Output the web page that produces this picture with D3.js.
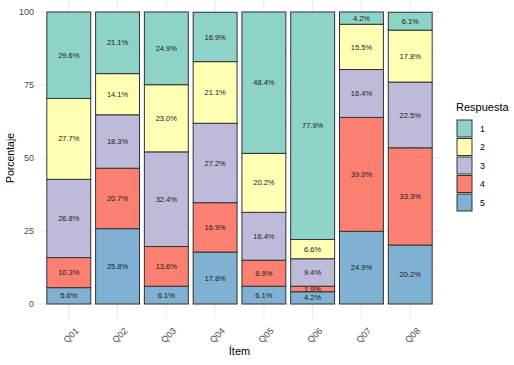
<!DOCTYPE html>
<html><head><meta charset="utf-8">
<script src="https://cdn.jsdelivr.net/npm/d3@7"></script>
<style>body{margin:0;background:#fff}svg{display:block;font-family:"Liberation Sans",Arial,sans-serif}</style>
</head><body>
<svg id="c" width="514" height="365"></svg>
<script>
const items = ["Q01","Q02","Q03","Q04","Q05","Q06","Q07","Q08"];
const responses = ["1","2","3","4","5"];
const r1 = [29.6, 21.1, 24.9, 16.9, 48.4, 77.9, 4.2, 6.1];
const r2 = [27.7, 14.1, 23.0, 21.1, 20.2, 6.6, 15.5, 17.8];
const r3 = [26.8, 18.3, 32.4, 27.2, 16.4, 9.4, 16.4, 22.5];
const r4 = [10.3, 20.7, 13.6, 16.9, 8.9, 1.9, 39.0, 33.3];
const r5 = [5.6, 25.8, 6.1, 17.8, 6.1, 4.2, 24.9, 20.2];
const yTicks = [0, 25, 50, 75, 100];
const colors = ["#8DD3C7","#FFFFB3","#BEBADA","#FB8072","#80B1D3"];

const seriesVals = {"1": r1, "2": r2, "3": r3, "4": r4, "5": r5};
const rows = items.map((it, i) => {
  const o = {item: it};
  responses.forEach(r => o[r] = seriesVals[r][i]);
  return o;
});

const svg = d3.select("#c");
const pLeft = 39.5, pRight = 439.5, pTop = -2.6, pBottom = 318.6;
const x = d3.scaleBand().domain(items).range([pLeft, pRight]).paddingInner(0.1).paddingOuter(0.15).align(0.5);
const y = d3.scaleLinear().domain([-5, 105]).range([pBottom, pTop]);
const color = d3.scaleOrdinal().domain(responses).range(colors);

// grid
const g = svg.append("g");
const minor = [12.5, 37.5, 62.5, 87.5];
g.selectAll(".mn").data(minor).join("line")
  .attr("x1", pLeft).attr("x2", pRight).attr("y1", d => y(d)).attr("y2", d => y(d))
  .attr("stroke", "#F2F2F2").attr("stroke-width", 0.6);
g.selectAll(".mj").data(yTicks).join("line")
  .attr("x1", pLeft).attr("x2", pRight).attr("y1", d => y(d)).attr("y2", d => y(d))
  .attr("stroke", "#EBEBEB").attr("stroke-width", 1.1);
g.selectAll(".vx").data(items).join("line")
  .attr("x1", d => x(d) + x.bandwidth()/2).attr("x2", d => x(d) + x.bandwidth()/2)
  .attr("y1", pTop).attr("y2", pBottom)
  .attr("stroke", "#EBEBEB").attr("stroke-width", 1.1);

// stack: 5 at bottom, 1 at top
const stack = d3.stack().keys(["5","4","3","2","1"]);
const series = stack(rows);

const bars = svg.append("g");
series.forEach(s => {
  bars.selectAll(null).data(s).join("rect")
    .attr("x", d => x(d.data.item))
    .attr("width", x.bandwidth())
    .attr("y", d => y(d[1]))
    .attr("height", d => y(d[0]) - y(d[1]))
    .attr("fill", color(s.key))
    .attr("stroke", "#333333").attr("stroke-width", 1);
});
series.forEach(s => {
  bars.selectAll(null).data(s).join("text")
    .attr("x", d => x(d.data.item) + x.bandwidth()/2)
    .attr("y", d => y((d[0] + d[1]) / 2))
    .attr("dy", "0.35em")
    .attr("text-anchor", "middle")
    .attr("font-size", 7.5)
    .attr("fill", "#1a1a1a")
    .text(d => (d[1] - d[0]).toFixed(1) + "%");
});

// y axis labels
svg.append("g").selectAll("text").data(yTicks).join("text")
  .attr("x", 34).attr("y", d => y(d)).attr("dy", "0.35em")
  .attr("text-anchor", "end").attr("font-size", 9).attr("fill", "#4D4D4D")
  .text(d => d);

// x axis labels
svg.append("g").selectAll("text").data(items).join("text")
  .attr("transform", d => `translate(${x(d) + x.bandwidth()/2 + 6},${327}) rotate(-45)`)
  .attr("text-anchor", "end").attr("dy", "0.7em").attr("font-size", 9).attr("fill", "#4D4D4D")
  .text(d => d);

// axis titles
svg.append("text").attr("x", (pLeft + pRight)/2).attr("y", 355)
  .attr("text-anchor", "middle").attr("font-size", 11).attr("fill", "#000").text("Ítem");
svg.append("text").attr("transform", `translate(14,${(y(0)+y(100))/2}) rotate(-90)`)
  .attr("text-anchor", "middle").attr("font-size", 10.5).attr("fill", "#000").text("Porcentaje");

// legend
const lg = svg.append("g").attr("transform", "translate(456,0)");
lg.append("text").attr("x", 0).attr("y", 111).attr("font-size", 11).attr("fill", "#000").text("Respuesta");
responses.forEach((r, i) => {
  const yy = 120 + i * 18.5;
  lg.append("rect").attr("x", 1).attr("y", yy).attr("width", 15).attr("height", 17)
    .attr("fill", color(r)).attr("stroke", "#333").attr("stroke-width", 1);
  lg.append("text").attr("x", 24).attr("y", yy + 8.5).attr("dy", "0.35em")
    .attr("font-size", 8.8).attr("fill", "#000").text(r);
});
</script>
</body></html>
